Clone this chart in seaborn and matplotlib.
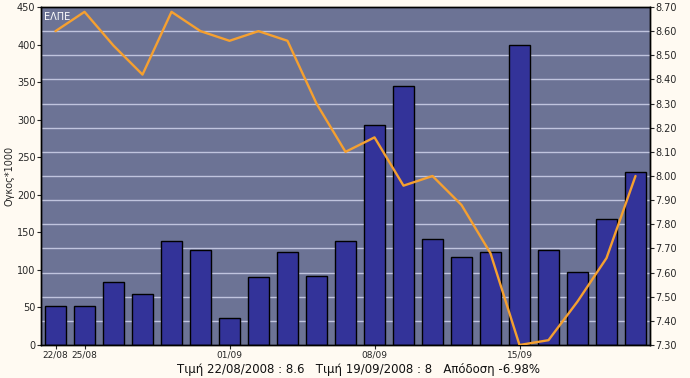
import matplotlib
matplotlib.use("Agg")
import matplotlib.pyplot as plt
import seaborn as sns
import pandas as pd
import numpy as np

dates = ["22/08", "25/08", "26/08", "27/08", "28/08", "29/08", "01/09", "02/09", "03/09",
         "04/09", "05/09", "08/09", "09/09", "10/09", "11/09", "12/09", "15/09", "16/09",
         "17/09", "18/09", "19/09"]
volume = [52, 52, 84, 68, 139, 127, 36, 90, 124, 92, 138, 293, 345, 141, 117, 124, 399,
          127, 97, 168, 230]
price = [8.60, 8.68, 8.54, 8.42, 8.68, 8.60, 8.56, 8.60, 8.56, 8.30, 8.10, 8.16, 7.96,
         8.00, 7.88, 7.68, 7.30, 7.32, 7.48, 7.66, 8.00]
shown_labels = ["22/08", "25/08", "01/09", "08/09", "15/09"]
title_text = "Τιμή 22/08/2008 : 8.6   Τιμή 19/09/2008 : 8   Απόδοση -6.98%"

sns.set_style("white")
plt.rcParams['font.family'] = ['DejaVu Sans']

bg = "#FFFAF2"
plot_bg = "#6C7395"
bar_c = "#333399"
line_c = "#F5A030"
grid_c = "#C0C4DE"

fig = plt.figure(figsize=(6.9, 3.78), dpi=100, facecolor=bg)
ax = fig.add_axes([41/690, 33/378, 609/690, 338/378])
ax.set_facecolor(plot_bg)

df = pd.DataFrame({"date": dates, "volume": volume, "price": price, "x": np.arange(len(dates))})
sns.barplot(data=df, x="date", y="volume", color=bar_c, saturation=1, width=0.72,
            edgecolor="black", linewidth=1, ax=ax, zorder=2)
ax.set_xlim(-0.5, len(dates) - 0.5)
ax.set_ylim(0, 450)
ax.set_yticks(np.arange(0, 451, 50))
ax.set_yticks([k * 450 / 14 for k in range(1, 14)], minor=True)
ax.grid(which="minor", axis="y", color=grid_c, linewidth=1, zorder=0)
ax.set_axisbelow(True)
ax.tick_params(axis="y", which="major", length=3, direction="out", labelsize=7, pad=1, left=True)
ax.tick_params(axis="y", which="minor", length=0)
pos = [dates.index(d) for d in shown_labels]
ax.set_xticks(pos)
ax.set_xticklabels(shown_labels)
ax.tick_params(axis="x", length=3, direction="out", labelsize=6.5, pad=1, bottom=True)
ax.set_xlabel("")
ax.set_ylabel("Ογκος*1000", fontsize=7, labelpad=2)
for s in ax.spines.values():
    s.set_color("black")
    s.set_linewidth(1)

ax2 = ax.twinx()
sns.lineplot(data=df, x="x", y="price", color=line_c, linewidth=1.7, ax=ax2, zorder=5)
ax2.set_ylim(7.30, 8.70)
ax2.set_yticks(np.round(np.arange(7.30, 8.701, 0.10), 2))
ax2.set_yticklabels([f"{v:.2f}" for v in np.arange(7.30, 8.701, 0.10)])
ax2.tick_params(axis="y", length=3, direction="out", labelsize=7, pad=1, right=True)
ax2.set_ylabel("")
ax2.set_xlabel("")
ax2.set_xlim(-0.5, len(dates) - 0.5)
for s in ax2.spines.values():
    s.set_color("black")
    s.set_linewidth(1)

ax.text(0.005, 0.985, "ΕΛΠΕ", transform=ax.transAxes, color="white", fontsize=7,
        ha="left", va="top", zorder=10)
fig.text(359/690, 9/378, title_text, ha="center", va="center", fontsize=8.5, color="#111111")

fig.savefig("out.png", dpi=100, facecolor=bg)
